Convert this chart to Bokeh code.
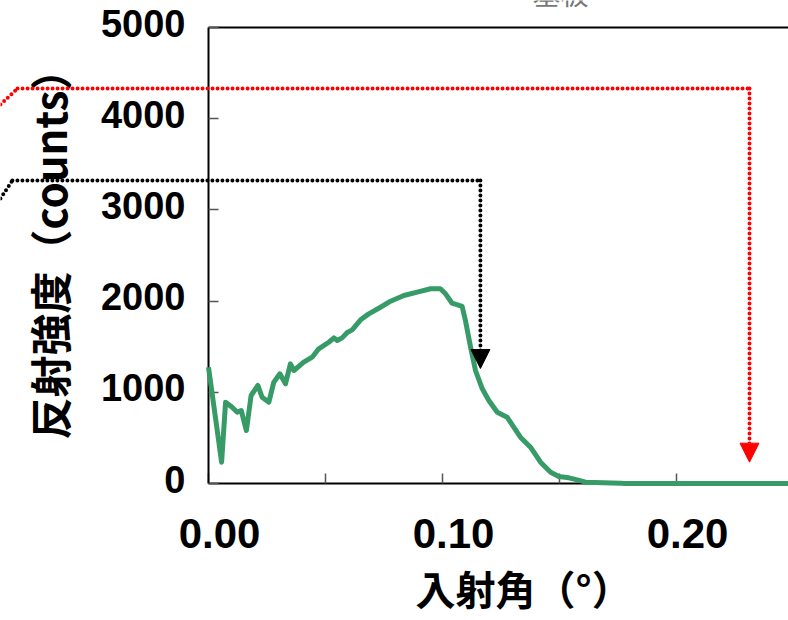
from bokeh.plotting import figure
from bokeh.models import (Range1d, LinearAxis, FixedTicker, PrintfTickFormatter,
                          Arrow, NormalHead, Label)
from bokeh.embed import file_html
from bokeh.resources import INLINE

# ---- measured curve: incidence angle (deg) vs reflected intensity (counts)
angle = [0.0000, 0.0056, 0.0073, 0.0101, 0.0123, 0.0140, 0.0162, 0.0182, 0.0211,
         0.0229, 0.0258, 0.0279, 0.0305, 0.0329, 0.0350, 0.0365, 0.0407, 0.0443,
         0.0471, 0.0514, 0.0536, 0.0550, 0.0571, 0.0593, 0.0614, 0.0650, 0.0685,
         0.0735, 0.0778, 0.0835, 0.0892, 0.0949, 0.0991, 0.1013, 0.1041, 0.1084,
         0.1098, 0.1120, 0.1141, 0.1170, 0.1198, 0.1234, 0.1276, 0.1333, 0.1376,
         0.1419, 0.1462, 0.1497, 0.1540, 0.1576, 0.1611, 0.1761, 0.1775, 0.2600]
intensity = [1275, 234, 892, 837, 782, 800, 581, 965, 1075,
             946, 892, 1111, 1203, 1093, 1312, 1239, 1330, 1385,
             1477, 1549, 1597, 1568, 1597, 1656, 1685, 1795, 1860,
             1933, 1999, 2061, 2098, 2135, 2135, 2080, 1977, 1941,
             1787, 1495, 1239, 1038, 910, 782, 727, 508, 398,
             234, 124, 77, 62, 40, 15, 4, 0, 0]

# ---- critical-angle guide arrows (black: film, red: substrate)
guide_angles = [0.1162, 0.2312]
guide_levels = [3322, 4331]
guide_tips = [1261, 234]
guide_colors = ["black", "#ff0000"]
leader_start_x = [-0.0889, -0.0889]
leader_start_y = [3125, 4156]
leader_knee_x = [-0.0838, -0.0816]

# ---- axes
x_ticks = [0.0, 0.1, 0.2]
x_minor_ticks = [0.05, 0.15]
y_ticks = [0, 1000, 2000, 3000, 4000, 5000]
x_axis_end = 0.2479
y_axis_end = 5000

x_title = "入射角（°）"
y_title = "反射強度（counts）"
top_note = "基板"

NUM_FONT = "Liberation Sans"
JP_FONT = "Noto Sans CJK JP"

# visible window (the chart is a crop of a wider figure)
W, H = 788, 620
x_lo, x_hi = -0.08889, 0.24786
y_lo, y_hi = -1502.2, 5296.1

p = figure(width=W, height=H, x_range=Range1d(x_lo, x_hi), y_range=Range1d(y_lo, y_hi),
           output_backend="svg", toolbar_location=None,
           x_axis_type=None, y_axis_type=None, min_border=0)
p.outline_line_color = None
p.background_fill_color = "white"
p.border_fill_color = "white"

x_shift = 0.0047   # tick labels sit a little right of their ticks
y_shift = 49       # and a little above
p.extra_x_ranges = {"xlab": Range1d(x_lo - x_shift, x_hi - x_shift)}
p.extra_y_ranges = {"ylab": Range1d(y_lo - y_shift, y_hi - y_shift)}

tick_color = "#555555"

# x axis: line + inward ticks
xa = LinearAxis(ticker=FixedTicker(ticks=x_ticks, minor_ticks=x_minor_ticks),
                fixed_location=0, bounds=(0, x_axis_end),
                axis_line_color="black", axis_line_width=2,
                major_tick_in=10, major_tick_out=0, minor_tick_in=10, minor_tick_out=0,
                major_tick_line_color=tick_color, minor_tick_line_color=tick_color,
                major_tick_line_width=1.5, minor_tick_line_width=1.5,
                major_label_text_color=None)
p.add_layout(xa, "below")
# x axis: tick labels
xl = LinearAxis(x_range_name="xlab", ticker=FixedTicker(ticks=x_ticks, minor_ticks=[]),
                fixed_location=0,
                formatter=PrintfTickFormatter(format="%.2f"),
                axis_line_color=None, major_tick_line_color=None, minor_tick_line_color=None,
                major_tick_in=0, major_tick_out=0, minor_tick_in=0, minor_tick_out=0,
                major_label_standoff=35,
                major_label_text_font=NUM_FONT, major_label_text_font_size="42px",
                major_label_text_font_style="bold", major_label_text_color="black")
p.add_layout(xl, "below")

# y axis: line + inward ticks
ya = LinearAxis(ticker=FixedTicker(ticks=y_ticks, minor_ticks=[]),
                fixed_location=0, bounds=(0, y_axis_end),
                axis_line_color="black", axis_line_width=2,
                major_tick_in=10, major_tick_out=0, minor_tick_in=0, minor_tick_out=0,
                major_tick_line_color=tick_color, major_tick_line_width=1.5,
                major_label_text_color=None)
p.add_layout(ya, "left")
# y axis: tick labels + title
yl = LinearAxis(y_range_name="ylab", ticker=FixedTicker(ticks=y_ticks, minor_ticks=[]),
                fixed_location=0, bounds=(-y_shift, 5200),
                axis_line_color=None, major_tick_line_color=None, minor_tick_line_color=None,
                major_tick_in=0, major_tick_out=0, minor_tick_in=0, minor_tick_out=0,
                major_label_standoff=23,
                major_label_text_font=NUM_FONT, major_label_text_font_size="38px",
                major_label_text_font_style="bold", major_label_text_color="black",
                axis_label=y_title, axis_label_text_font=JP_FONT,
                axis_label_text_font_size="42px", axis_label_text_font_style="bold",
                axis_label_text_color="black", axis_label_standoff=19)
p.add_layout(yl, "left")

# top frame line
top = LinearAxis(ticker=FixedTicker(ticks=[], minor_ticks=[]),
                 fixed_location=y_axis_end, bounds=(0, x_axis_end),
                 axis_line_color="black", axis_line_width=2,
                 major_tick_line_color=None, minor_tick_line_color=None,
                 major_label_text_color=None)
p.add_layout(top, "above")

# curve
r = p.line(angle, intensity, line_color="#379b68", line_width=5, line_join="round")
r.level = "annotation"

# guide arrows
for gx, gl, gt, col, sx, sy, kx in zip(guide_angles, guide_levels, guide_tips, guide_colors,
                                       leader_start_x, leader_start_y, leader_knee_x):
    p.add_layout(Arrow(start=None, end=None, x_start=sx, y_start=sy, x_end=kx, y_end=gl,
                       line_color=col, line_width=4, line_dash="0 5", line_cap="round"))
    p.add_layout(Arrow(start=None, end=None, x_start=kx, y_start=gl, x_end=gx, y_end=gl,
                       line_color=col, line_width=4, line_dash="0 5", line_cap="round"))
    p.add_layout(Arrow(start=None,
                       end=NormalHead(size=19, fill_color=col, line_color=col, line_width=1),
                       x_start=gx, y_start=gl, x_end=gx, y_end=gt,
                       line_color=col, line_width=4, line_dash="0 5", line_cap="round"))

# x-axis title (centred on the original, wider frame)
p.add_layout(Label(x=0.0885, y=-1151, text=x_title, text_align="left", text_baseline="middle",
                   text_font=JP_FONT, text_font_size="40px", text_font_style="bold",
                   text_color="black"))
# partially visible caption above the frame
p.add_layout(Label(x=0.1504, y=5154, text=top_note, text_align="center", text_baseline="bottom",
                   text_font=JP_FONT, text_font_size="28px", text_color="#777777"))

open("out.html", "w").write(file_html(p, INLINE))
